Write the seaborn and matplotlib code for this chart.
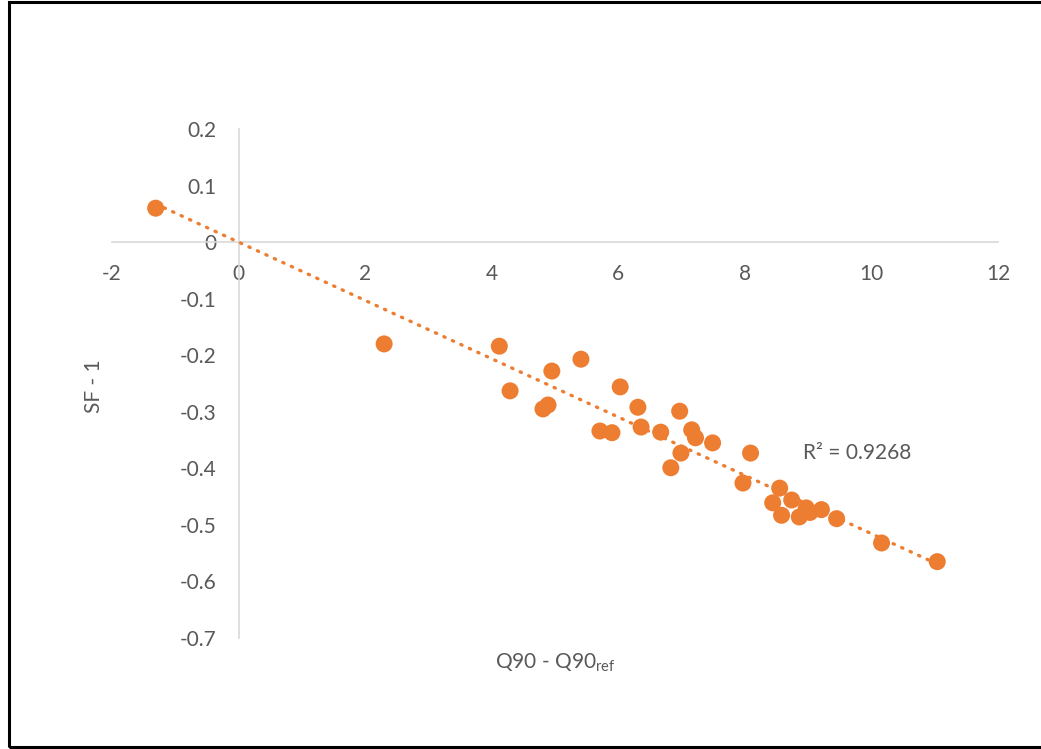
import numpy as np
import pandas as pd
import matplotlib
matplotlib.use("Agg")
import matplotlib.pyplot as plt
from matplotlib.patches import Rectangle
import seaborn as sns

# Q90 - Q90ref vs SF - 1
q90_diff = [-1.31, 2.30, 4.12, 4.29, 4.95, 4.81, 4.89, 5.41, 5.71, 5.90,
            6.03, 6.31, 6.36, 6.67, 6.97, 7.16, 7.22, 7.49, 6.99, 6.83,
            8.09, 7.97, 8.55, 8.44, 8.74, 8.58, 8.86, 8.97, 9.03, 9.21,
            9.45, 10.16, 11.04]
sf_minus_1 = [0.060, -0.180, -0.184, -0.263, -0.228, -0.295, -0.288, -0.207,
              -0.334, -0.337, -0.256, -0.292, -0.327, -0.336, -0.299, -0.332,
              -0.346, -0.355, -0.373, -0.399, -0.373, -0.426, -0.435, -0.461,
              -0.456, -0.483, -0.486, -0.470, -0.478, -0.473, -0.489, -0.532,
              -0.565]
x_ticks = [-2, 0, 2, 4, 6, 8, 10, 12]
y_ticks = [0.2, 0.1, 0, -0.1, -0.2, -0.3, -0.4, -0.5, -0.6, -0.7]
r2_label = "R² = 0.9268"

df = pd.DataFrame({"x": q90_diff, "y": sf_minus_1})

sns.set_theme(style="white")
plt.rcParams["font.family"] = ["Lato", "DejaVu Sans"]

ORANGE = "#ED7D31"
GREY_TXT = "#595959"
GREY_AX = "#d9d9d9"
FS = 15

W, H = 1041, 749
fig = plt.figure(figsize=(W / 100, H / 100), dpi=100)
fig.patch.set_facecolor("white")
ax = fig.add_axes([112 / W, 1 - 638 / H, 886 / W, 509 / H])

# linear trend forced through the origin
xs = df["x"].to_numpy()
ys = df["y"].to_numpy()
slope = np.sum(xs * ys) / np.sum(xs * xs)
xl = np.array([xs.min(), xs.max()])
ax.plot(xl, slope * xl, color=ORANGE, lw=2.4, linestyle=(0, (0.4, 2.4)),
        dash_capstyle="round", zorder=2)

sns.scatterplot(data=df, x="x", y="y", ax=ax, color=ORANGE, s=150,
                edgecolor="none", linewidth=0, zorder=3)

ax.set_xlim(-2, 12)
ax.set_ylim(-0.7, 0.2)
ax.set_xticks(x_ticks)
ax.set_xticklabels([str(t) for t in x_ticks])
ax.set_yticks(y_ticks)
ax.set_yticklabels([("%g" % t) for t in y_ticks])

for side in ("top", "right"):
    ax.spines[side].set_visible(False)
ax.spines["left"].set_position(("data", 0))
ax.spines["bottom"].set_position(("data", 0))
for side in ("left", "bottom"):
    ax.spines[side].set_color(GREY_AX)
    ax.spines[side].set_linewidth(1.2)
    ax.spines[side].set_zorder(1)

ax.tick_params(axis="x", length=0, pad=16, labelsize=FS, labelcolor=GREY_TXT)
ax.tick_params(axis="y", length=0, pad=16, labelsize=FS, labelcolor=GREY_TXT)
ax.set_xlabel("")
ax.set_ylabel("")
ax.grid(False)

ax.text(8.92, -0.373, r2_label, fontsize=FS, color=GREY_TXT,
        ha="left", va="center")

fig.text(94 / W, 1 - 386 / H, "SF - 1", rotation=90, fontsize=FS,
         color=GREY_TXT, ha="center", va="center")
fig.text(555 / W, 1 - 663 / H, r"Q90 - Q90$_{\mathregular{ref}}$",
         fontsize=FS, color=GREY_TXT, ha="center", va="center")

# outer frame
fig.patches.append(Rectangle((8.5 / W, 2 / H), 1.2, 1 - 3.5 / H,
                             transform=fig.transFigure, fill=False,
                             edgecolor="black", linewidth=2.2))

fig.savefig("out.png", dpi=100, facecolor="white")
